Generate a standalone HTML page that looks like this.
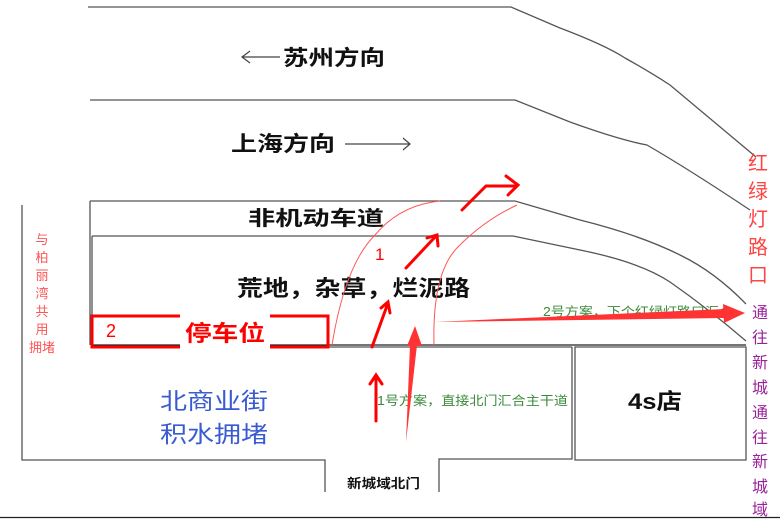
<!DOCTYPE html>
<html><head><meta charset="utf-8"><style>
body{margin:0;background:#fff}
svg{display:block}
text{font-family:"Liberation Sans","Noto Sans CJK SC",sans-serif}
</style></head><body>
<svg width="780" height="519" viewBox="0 0 780 519" xmlns="http://www.w3.org/2000/svg">
<g fill="none" stroke="#555" stroke-width="1.3">
<path d="M88 7 H511 L560 28 Q605 45 625 58 Q650 72 670 85 L756 157"/>
<path d="M90 100 H515 L570 122 Q620 140 647 145 Q690 170 750 210"/>
<path d="M90 201 H515 L580 220 Q640 235 680 255 Q715 272 746 304"/>
<path d="M92 236 H513 L580 250 Q640 262 670 282 Q710 310 746 341"/>
<path d="M90 201 V345 M92 236 V345" />
<path d="M92 345 H746" stroke="#222"/>
<path d="M22 205 V460 H325 V492 M439 492 V459 H572 V347 M92 347 H572 M575 347 H746 V460 H575 Z"/>
<path d="M0 517.5 H780" stroke="#222"/>
</g>
<g stroke="#444" stroke-width="1.2" fill="none">
<path d="M242 57 H280 M250 51 L242 57 L250 63"/>
<path d="M345 144 H410 M403 138 L410 144 L403 150"/>
</g>
<text x="283" y="65" font-size="21" font-weight="bold" fill="#111" textLength="102" lengthAdjust="spacingAndGlyphs">苏州方向</text>
<text x="231" y="151" font-size="21" font-weight="bold" fill="#111" textLength="104" lengthAdjust="spacingAndGlyphs">上海方向</text>
<text x="248" y="225" font-size="20" font-weight="bold" fill="#111" textLength="136" lengthAdjust="spacingAndGlyphs">非机动车道</text>
<text x="237" y="296" font-size="22" font-weight="bold" fill="#111" textLength="233" lengthAdjust="spacingAndGlyphs">荒地，杂草，烂泥路</text>
<rect x="92" y="316" width="236" height="31" fill="none" stroke="#f00" stroke-width="3"/>
<rect x="180" y="312" width="90" height="38" fill="#fff"/>
<text x="106" y="337" font-size="18" fill="#f00">2</text>
<text x="185" y="341" font-size="22" font-weight="bold" fill="#f00" textLength="80" lengthAdjust="spacingAndGlyphs">停车位</text>
<g font-size="13" fill="#f55" text-anchor="middle">
<text x="42" y="244">与</text><text x="42" y="262">柏</text><text x="42" y="280">丽</text><text x="42" y="298">湾</text><text x="42" y="316">共</text><text x="42" y="334">用</text><text x="42" y="352">拥堵</text>
</g>
<text x="160" y="409" font-size="23" fill="#3a5bd0" textLength="108" lengthAdjust="spacingAndGlyphs">北商业街</text>
<text x="160" y="442" font-size="23" fill="#3a5bd0" textLength="108" lengthAdjust="spacingAndGlyphs">积水拥堵</text>
<text x="628" y="409" font-size="22" font-weight="bold" fill="#111" textLength="54" lengthAdjust="spacingAndGlyphs">4s店</text>
<text x="347" y="488" font-size="13" font-weight="bold" fill="#111" textLength="73" lengthAdjust="spacingAndGlyphs">新城域北门</text>
<text x="377" y="405" font-size="12.5" fill="#3a8a3a" textLength="191" lengthAdjust="spacingAndGlyphs">1号方案，直接北门汇合主干道</text>
<text x="543" y="316" font-size="12.5" fill="#3a8a3a" textLength="190" lengthAdjust="spacingAndGlyphs">2号方案，下个红绿灯路口汇合</text>
<g font-size="20" fill="#f44" text-anchor="middle">
<text x="758" y="170">红</text><text x="758" y="198">绿</text><text x="758" y="226">灯</text><text x="758" y="254">路</text><text x="758" y="282">口</text>
</g>
<g font-size="16" fill="#992299" text-anchor="middle">
<text x="760" y="318">通</text><text x="760" y="343">往</text><text x="760" y="368">新</text><text x="760" y="393">城</text><text x="760" y="418">通</text><text x="760" y="443">往</text><text x="760" y="467">新</text><text x="760" y="492">城</text><text x="760" y="515">域</text><text x="760" y="536">蓉</text>
</g>
<g fill="none" stroke="#f55" stroke-width="1">
<path d="M332 345 Q345 265 375 235 Q400 205 440 201"/>
<path d="M434 345 Q432 270 460 245 Q485 220 517 205"/>
</g>
<text x="375" y="260" font-size="17" fill="#f00">1</text>
<g fill="none" stroke="#f00" stroke-width="3" stroke-linecap="round">
<path d="M376 421 V376 M370 384 L376 375 L382 384"/>
<path d="M372 347 L388 303 M381 308 L388 302 L390 313"/>
<path d="M406 268 L436 236 M427 238 L437 235 L438 246"/>
<path d="M462 210 L486 186 H517 M506 176 L518 185 L508 195"/>
</g>
<path d="M406 442 L410 345 L417 345 Z" fill="#f33"/>
<path d="M415 326 L407 346 L422 346 Z" fill="#f33"/>
<path d="M435 322 L725 309 L725 318 Z" fill="#f33"/>
<path d="M745 313 L723 304 L724 323 Z" fill="#f33"/>
</svg>
</body></html>
